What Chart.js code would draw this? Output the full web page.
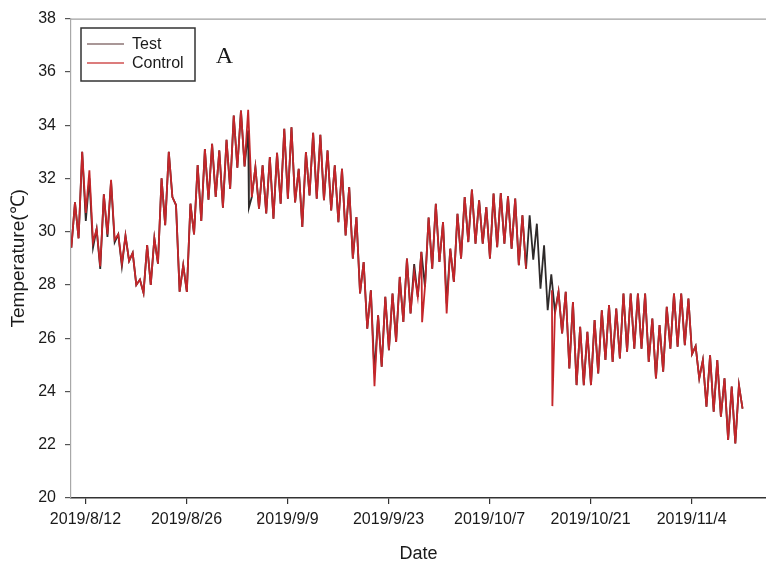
<!DOCTYPE html>
<html>
<head>
<meta charset="utf-8">
<script src="https://cdn.jsdelivr.net/npm/chart.js@4/dist/chart.umd.min.js"></script>
<style>
html,body{margin:0;padding:0;background:#fff;}
#wrap{width:766px;height:562px;position:relative;}
</style>
</head>
<body>
<div id="wrap"><canvas id="c" width="766" height="562"></canvas></div>
<script>
// Tick labels (dates) and their day offsets from 2019/8/12
const tickLabels = ['2019/8/12','2019/8/26','2019/9/9','2019/9/23','2019/10/7','2019/10/21','2019/11/4'];
const tickDays = [0,14,28,42,56,70,84];
const yTicks = [20,22,24,26,28,30,32,34,36,38];

// Readings every half day (alternating night low / afternoon high), first at day -1.95
const startDay = -1.95;
const stepDays = 0.5;

const testValues = [
29.4,31.1,29.75,33.0,30.4,32.0,29.4,30.1,28.6,31.4,29.8,31.9,29.6,29.9,28.7,29.85,28.9,29.2,28.0,28.2,
27.7,29.5,28.0,29.75,28.8,32.0,30.24,33.0,31.3,31.0,27.75,28.74,27.74,31.05,29.9,32.5,30.4,33.1,31.2,33.3,
31.3,33.05,30.9,33.45,31.6,34.36,32.4,34.55,32.45,33.8,31.3,32.42,30.86,32.49,30.68,32.8,30.49,32.96,31.05,33.86,
31.24,33.92,31.1,32.36,30.18,32.99,31.36,33.71,31.24,33.64,31.18,33.05,30.8,32.49,30.36,32.36,29.86,31.67,28.99,30.55,
27.68,28.86,26.36,27.8,24.68,26.86,24.93,27.55,25.55,27.68,25.86,28.3,26.61,28.99,26.93,28.78,27.55,29.24,27.93,30.53,
28.61,31.05,28.86,30.36,27.3,29.36,28.11,30.67,28.99,31.3,29.61,31.58,29.55,31.18,29.55,30.92,28.99,31.43,29.42,31.45,
29.55,31.33,29.36,31.24,28.74,30.61,28.61,30.61,28.95,30.3,27.86,29.49,27.05,28.4,27.0,27.74,26.18,27.74,24.86,27.36,
24.24,26.43,24.24,26.24,24.24,26.68,24.68,27.05,25.18,27.24,25.11,27.11,25.24,27.68,25.49,27.68,25.61,27.68,25.61,27.68,
25.11,26.74,24.49,26.49,24.74,27.18,25.61,27.68,25.68,27.68,25.74,27.49,25.4,25.7,24.49,25.18,23.43,25.36,23.24,25.18,
23.05,24.49,22.18,24.18,22.05,24.24,23.36
];
const controlValues = [
29.4,31.1,29.75,33.0,30.7,32.3,29.6,30.1,28.7,31.4,29.9,31.95,29.7,29.9,28.8,29.85,28.9,29.2,28.0,28.2,
27.7,29.5,28.0,29.75,28.8,32.0,30.24,33.0,31.3,31.0,27.75,28.74,27.74,31.05,29.9,32.5,30.4,33.1,31.2,33.3,
31.3,33.05,30.9,33.45,31.6,34.36,32.4,34.55,32.45,34.58,31.3,32.42,30.86,32.49,30.68,32.8,30.49,32.96,31.05,33.86,
31.24,33.92,31.1,32.36,30.18,32.99,31.36,33.71,31.24,33.64,31.18,33.05,30.8,32.49,30.36,32.36,29.86,31.67,28.99,30.55,
27.68,28.86,26.36,27.8,24.2,26.86,24.93,27.55,25.55,27.68,25.86,28.3,26.61,28.99,26.93,28.5,27.55,29.24,27.93,30.53,
28.61,31.05,28.86,30.36,26.93,29.36,28.11,30.67,28.99,31.3,29.61,31.58,29.55,31.18,29.55,30.92,28.99,31.43,29.42,31.45,
29.55,31.33,29.36,31.24,28.74,30.61,28.61,null,null,null,null,null,null,null,26.9,27.74,26.18,27.74,24.86,27.36,
24.24,26.43,24.24,26.24,24.24,26.68,24.68,27.05,25.18,27.24,25.11,27.11,25.24,27.68,25.49,27.68,25.61,27.68,25.61,27.68,
25.11,26.74,24.49,26.49,24.74,27.18,25.61,27.68,25.68,27.68,25.74,27.49,25.4,25.7,24.49,25.18,23.43,25.36,23.24,25.18,
23.05,24.49,22.18,24.18,22.05,24.24,23.36
];
// Short one-off excursions: [day offset, value]
const testSpikes = [[22.65,30.9]];
const controlSpikes = [[46.65,26.6],[64.64,27.8],[64.7,23.45]];

const seriesNames = ['Test','Control'];
const seriesColors = ['#2e2a2a','#c4262a'];

function buildSeries(values, spikes){
  const pts = values.map((v,i)=>({x:startDay+i*stepDays, y:v}));
  spikes.forEach(s=>pts.push({x:s[0], y:s[1]}));
  pts.sort((a,b)=>a.x-b.x);
  return pts;
}

const decor = {
  id:'decor',
  afterDraw(chart){
    const ctx = chart.ctx, a = chart.chartArea;
    ctx.save();
    // top border
    ctx.strokeStyle = '#a0a0a0'; ctx.lineWidth = 1.2;
    ctx.beginPath(); ctx.moveTo(a.left, a.top+0.5); ctx.lineTo(a.right, a.top+0.5); ctx.stroke();
    // legend box
    ctx.strokeStyle = '#333'; ctx.lineWidth = 1.5;
    ctx.strokeRect(81, 28, 114, 53);
    const rows = [44, 63];
    ctx.font = '16px "Liberation Sans", Arial, sans-serif';
    ctx.textBaseline = 'middle'; ctx.textAlign = 'left';
    seriesNames.forEach((n,i)=>{
      ctx.strokeStyle = i===0 ? '#8c7474' : '#d05050';
      ctx.lineWidth = 1.5;
      ctx.beginPath(); ctx.moveTo(87, rows[i]); ctx.lineTo(124, rows[i]); ctx.stroke();
      ctx.fillStyle = '#1a1a1a';
      ctx.fillText(n, 132, rows[i]+1);
    });
    ctx.font = '24px "Liberation Serif", "Times New Roman", serif';
    ctx.textAlign = 'center'; ctx.textBaseline = 'alphabetic';
    ctx.fillText('A', 224.5, 63);
    ctx.restore();
  }
};

new Chart(document.getElementById('c'), {
  type:'line',
  data:{
    datasets:[
      {label:seriesNames[0], data:buildSeries(testValues,testSpikes), borderColor:seriesColors[0], borderWidth:1.8, pointRadius:0, tension:0, order:1, spanGaps:false},
      {label:seriesNames[1], data:buildSeries(controlValues,controlSpikes), borderColor:seriesColors[1], borderWidth:1.8, pointRadius:0, tension:0, order:0, spanGaps:false}
    ]
  },
  options:{
    responsive:false, animation:false, devicePixelRatio:1,
    layout:{padding:{top:18,right:0,left:0,bottom:0}},
    plugins:{legend:{display:false}, tooltip:{enabled:false}},
    scales:{
      x:{
        type:'linear', min:-2, max:94.3,
        afterFit(s){ s.height = 64; },
        afterBuildTicks(s){ s.ticks = tickDays.map(v=>({value:v})); },
        ticks:{ callback:(v)=>{ const k = tickDays.indexOf(v); return k>=0 ? tickLabels[k] : ''; },
          color:'#1a1a1a', font:{family:'"Liberation Sans", Arial, sans-serif', size:16}, padding:6, maxRotation:0, autoSkip:false },
        grid:{ drawOnChartArea:false, tickLength:6, color:'#333', lineWidth:1.2 },
        border:{ color:'#333', width:1.5 },
        title:{ display:true, text:'Date', color:'#1a1a1a', font:{family:'"Liberation Sans", Arial, sans-serif', size:18}, padding:{top:0,bottom:-3} }
      },
      y:{
        min:20, max:38,
        afterFit(s){ s.width = 71; },
        afterBuildTicks(s){ s.ticks = yTicks.map(v=>({value:v})); },
        ticks:{ color:'#1a1a1a', font:{family:'"Liberation Sans", Arial, sans-serif', size:16}, padding:9 },
        grid:{ drawOnChartArea:false, tickLength:6, color:'#555', lineWidth:1.2 },
        border:{ color:'#a8a8a8', width:1.2 },
        title:{ display:true, text:'Temperature(℃)', color:'#1a1a1a', font:{family:'"Liberation Sans", Arial, sans-serif', size:19}, padding:{top:7,bottom:0} }
      }
    }
  },
  plugins:[decor]
});
</script>
</body>
</html>
